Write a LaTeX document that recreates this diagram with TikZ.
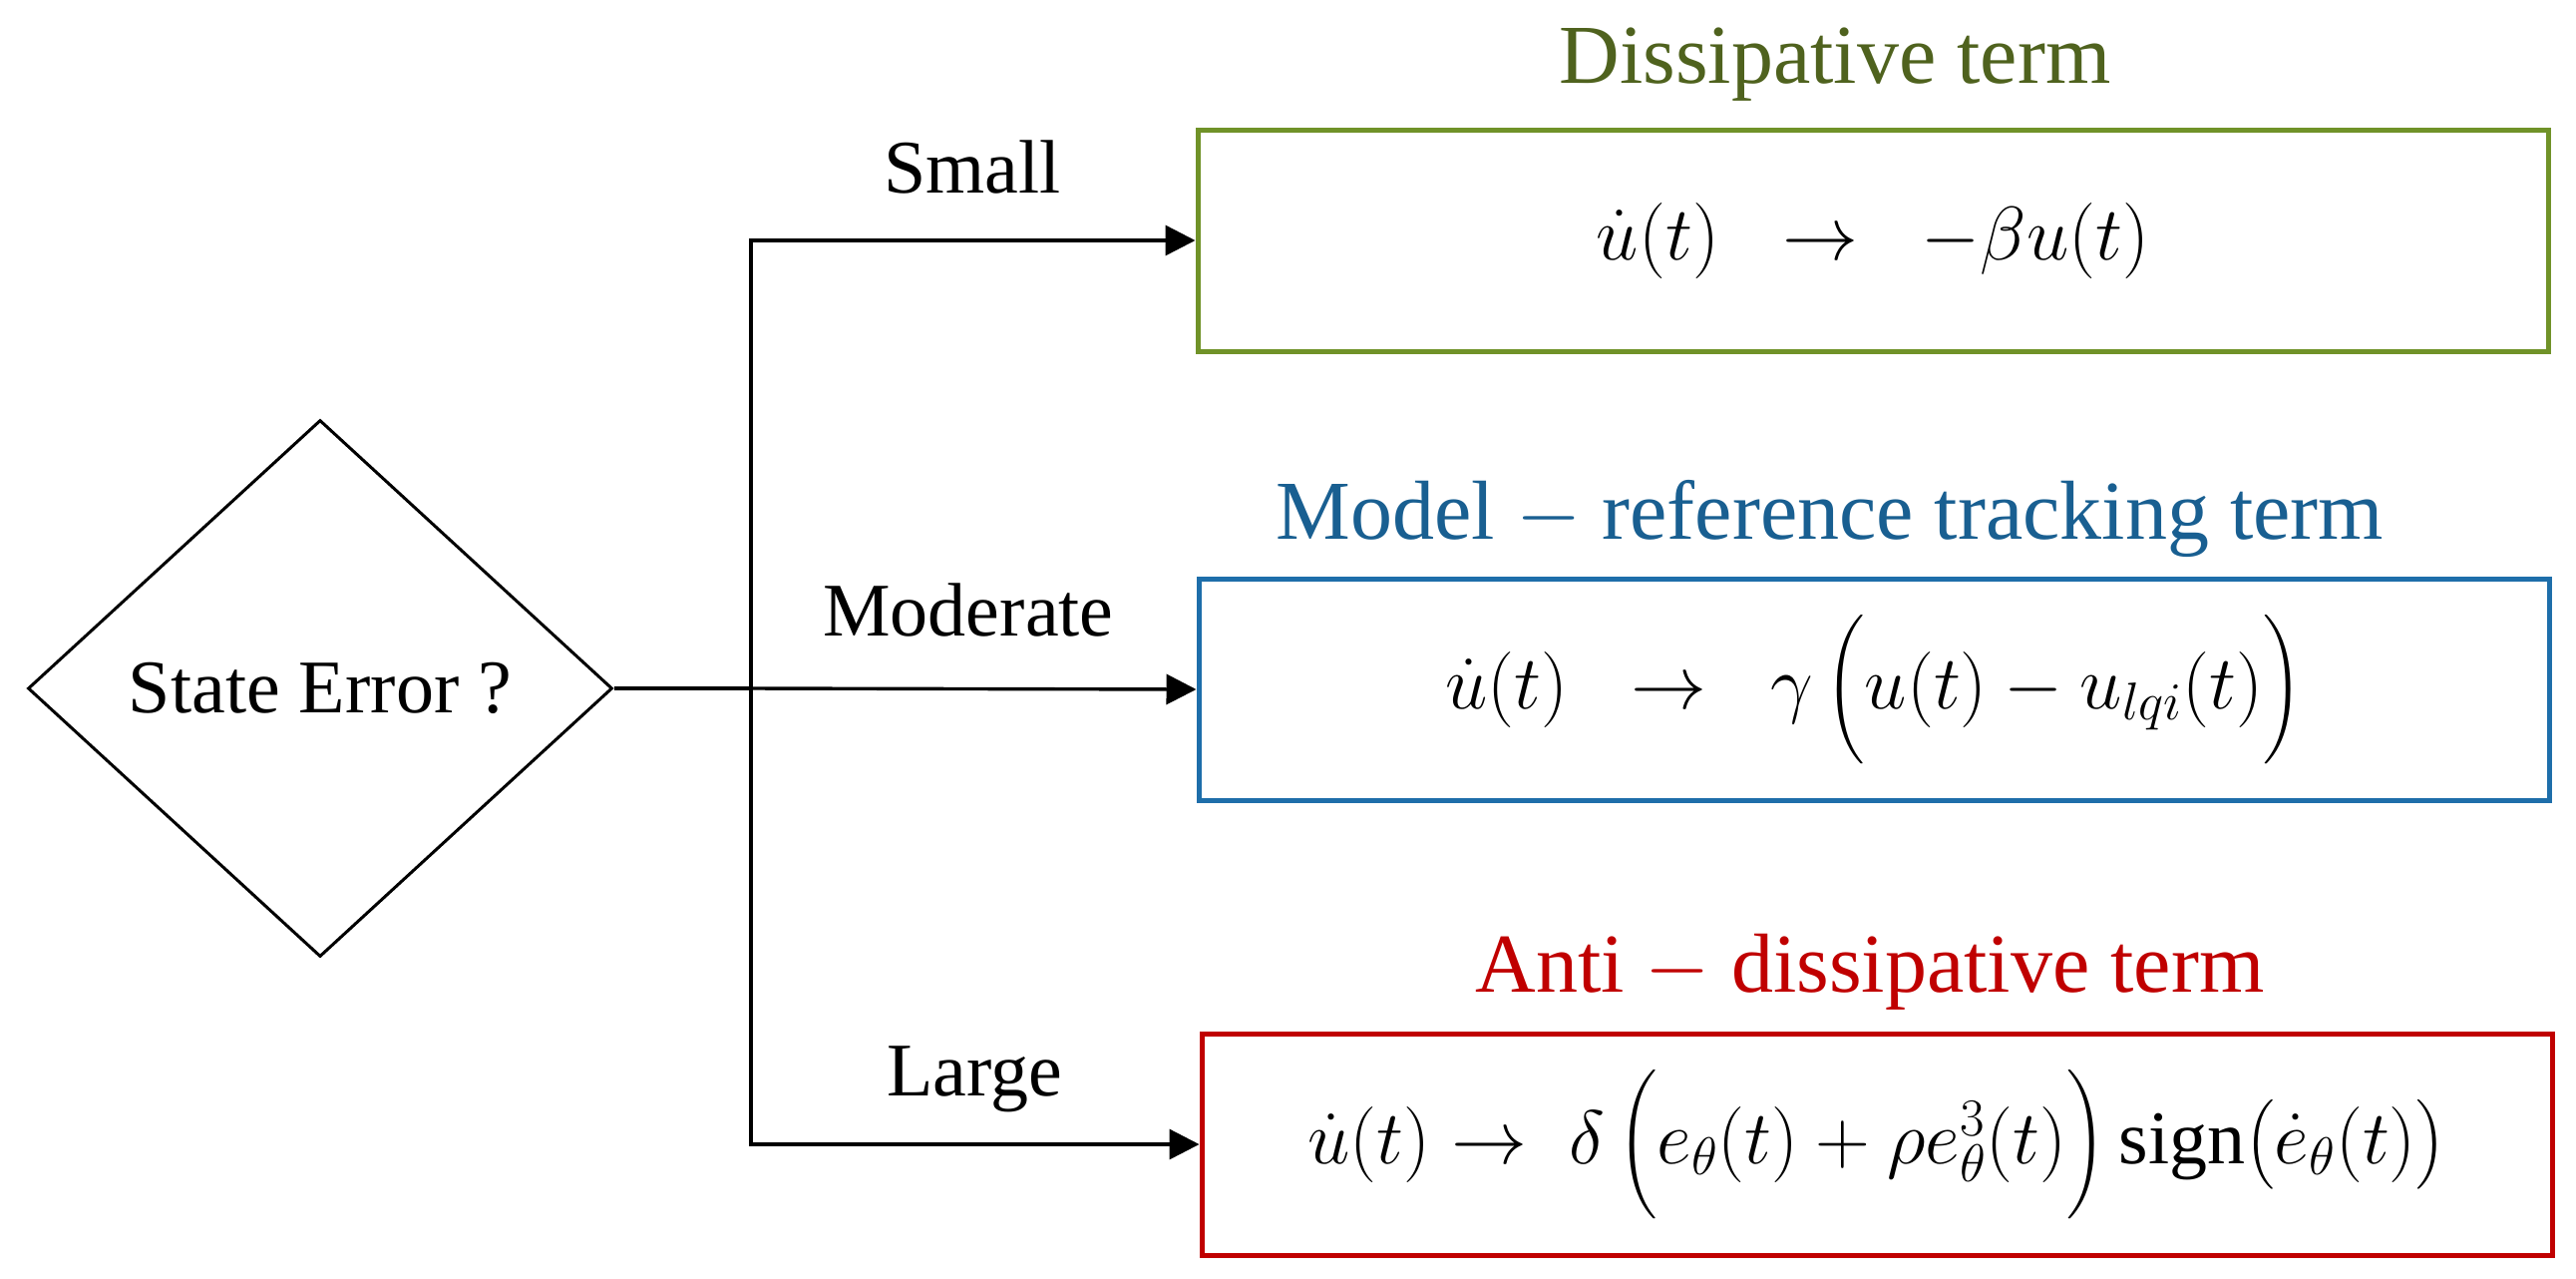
\RequirePackage{fix-cm}
\documentclass[tikz,border=0pt]{standalone}
\usepackage{amsmath}
\usepackage{fontspec}
\setmainfont{Liberation Serif}
\usetikzlibrary{shapes.geometric,arrows.meta}
\definecolor{gbox}{RGB}{112,146,40}
\definecolor{gtitle}{RGB}{79,98,30}
\definecolor{bbox}{RGB}{30,110,170}
\definecolor{btitle}{RGB}{25,95,145}
\definecolor{rbox}{RGB}{192,0,0}
\definecolor{rtitle}{RGB}{192,0,0}
\begin{document}
\begin{tikzpicture}[x=0.5pt,y=-0.5pt,
  termbox/.style={draw,line width=2.5pt,minimum width=677pt,minimum height=111pt,inner sep=0pt,font=\fontsize{38}{44}\selectfont},
  lbl/.style={anchor=base,font=\fontsize{38}{44}\selectfont},
  ttl/.style={anchor=base,font=\fontsize{42}{48}\selectfont},
  conn/.style={line width=1.7pt,-{Triangle[length=15pt,width=15pt]}},
  plainconn/.style={line width=1.7pt}]
\useasboundingbox (0,0) rectangle (2583,1281);
\node[draw,shape=diamond,line width=1.5pt,minimum width=293pt,minimum height=269pt,inner sep=0pt,font=\fontsize{38}{44}\selectfont] (dec) at (321,690) {State Error ?};
\node[termbox,draw=gbox] (small) at (1878,241) {$\dot u(t)\;\;\rightarrow\;\;-\beta u(t)$};
\node[termbox,draw=bbox] (mod) at (1879,691) {$\dot u(t)\;\;\rightarrow\;\;\gamma\,\Big(u(t)-u_{lqi}(t)\Big)$};
\node[termbox,draw=rbox] (large) at (1882,1147) {$\dot u(t)\rightarrow\;\delta\,\Big(e_\theta(t)+\rho e_\theta^3(t)\Big)\,\mathrm{sign}\big(\dot e_\theta(t)\big)$};
\coordinate (jn) at (753,690);
\draw[plainconn] (dec.east) -- (jn);
\draw[conn] (jn) -- (mod.west);
\draw[conn] (jn) |- (small.west);
\draw[conn] (jn) |- (large.west);
\node[lbl] (lsmall) at (975,193) {Small};
\node[lbl] (lmod) at (971,637) {Moderate};
\node[lbl] (llarge) at (977,1098) {Large};
\node[ttl,text=gtitle] (tsmall) at (1840,83) {Dissipative term};
\node[ttl,text=btitle] (tmod) at (1835,540) {Model $-$ reference tracking term};
\node[ttl,text=rtitle] (tlarge) at (1875,994) {Anti $-$ dissipative term};
\end{tikzpicture}
\end{document}
